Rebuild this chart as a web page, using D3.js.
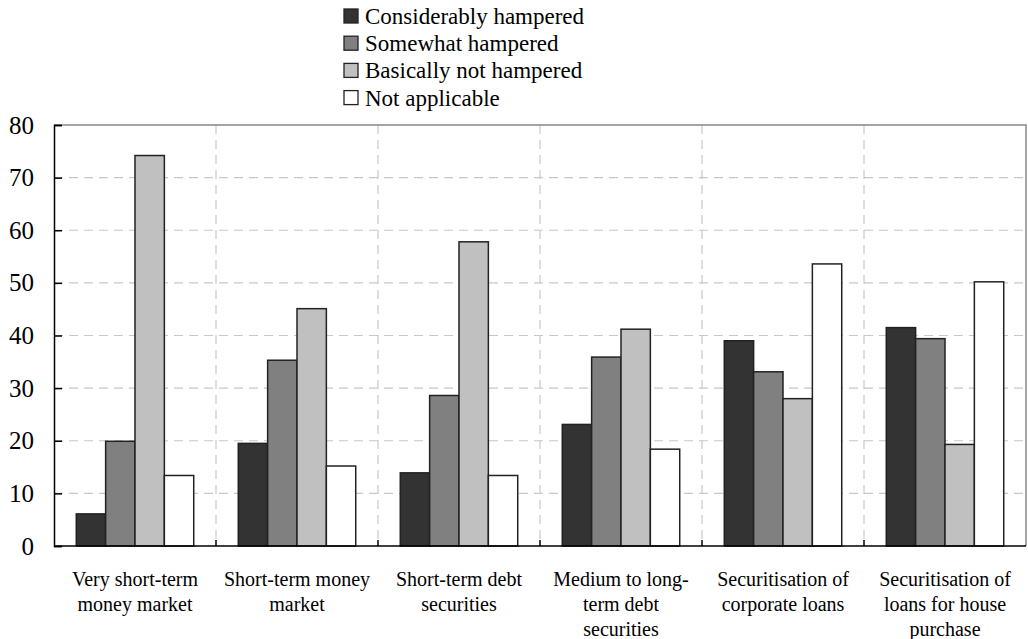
<!DOCTYPE html>
<html><head><meta charset="utf-8">
<script src="https://cdn.jsdelivr.net/npm/d3@7"></script>
<style>body{margin:0;background:#fff}svg{display:block}</style>
</head><body>
<script>
const categories = [
  ["Very short-term","money market"],
  ["Short-term money","market"],
  ["Short-term debt","securities"],
  ["Medium to long-","term debt","securities"],
  ["Securitisation of","corporate loans"],
  ["Securitisation of","loans for house","purchase"]
];
const seriesNames = ["Considerably hampered","Somewhat hampered","Basically not hampered","Not applicable"];
const seriesColors = ["#333333","#808080","#c0c0c0","#ffffff"];
const considerably = [6.1, 19.5, 13.9, 23.1, 39.0, 41.5];
const somewhat     = [19.9, 35.3, 28.6, 35.9, 33.1, 39.4];
const basicallyNot = [74.2, 45.1, 57.8, 41.2, 28.0, 19.3];
const notApplicable= [13.4, 15.2, 13.4, 18.4, 53.6, 50.2];
const yTicks = [0,10,20,30,40,50,60,70,80];

const FONT = "'Liberation Serif', 'Times New Roman', Times, Tinos, 'Nimbus Roman', 'DejaVu Serif', serif";
const values = [considerably, somewhat, basicallyNot, notApplicable];
const W = 1028, H = 639;
const m = {l:54, r:2, t:125, b:93};
const svg = d3.select("body").append("svg").attr("width",W).attr("height",H)
  .style("font-family", FONT);

const idx = categories.map((d,i)=>i);
const x0 = d3.scaleBand().domain(idx).range([m.l, W-m.r]).padding(0);
const bw = x0.bandwidth();
const x1 = d3.scaleBand().domain(d3.range(4)).range([bw*0.1375, bw*0.8625]).padding(0);
const y = d3.scaleLinear().domain([0,80]).range([H-m.b, m.t]);

// horizontal grid
svg.append("g").selectAll("line").data(yTicks.filter(t=>t>0 && t<80)).join("line")
  .attr("x1", m.l).attr("x2", W-m.r).attr("y1", d=>y(d)).attr("y2", d=>y(d))
  .attr("stroke","#c8c8c8").attr("stroke-width",1.2).attr("stroke-dasharray","9,6");
// vertical grid at band boundaries
svg.append("g").selectAll("line").data(idx.slice(1)).join("line")
  .attr("x1", d=>x0(d)).attr("x2", d=>x0(d)).attr("y1", y(80)).attr("y2", y(0))
  .attr("stroke","#c8c8c8").attr("stroke-width",1.2).attr("stroke-dasharray","9,6");

// top and right border
svg.append("path").attr("d",`M${m.l},${y(80)}H${W-m.r}V${y(0)}`).attr("fill","none")
  .attr("stroke","#888").attr("stroke-width",1.5);

// bars
const g = svg.append("g").selectAll("g").data(idx).join("g").attr("transform", d=>`translate(${x0(d)},0)`);
g.selectAll("rect").data(ci=>values.map((s,si)=>({si, v:s[ci]}))).join("rect")
  .attr("x", d=>x1(d.si)).attr("width", x1.bandwidth())
  .attr("y", d=>y(d.v)).attr("height", d=>y(0)-y(d.v))
  .attr("fill", d=>seriesColors[d.si]).attr("stroke","#222").attr("stroke-width",1.5);

// y axis
const yAxis = d3.axisLeft(y).tickValues(yTicks).tickSize(-8).tickPadding(20).tickFormat(d3.format("d"));
const ya = svg.append("g").attr("transform",`translate(${m.l},0)`).call(yAxis).attr("font-family", FONT);
ya.select(".domain").attr("stroke","#000").attr("stroke-width",1.5);
ya.selectAll(".tick line").attr("stroke","#000").attr("stroke-width",1.5);
ya.selectAll(".tick text").attr("font-size",25).attr("font-family",FONT).attr("fill","#000");

// x axis
const xa = svg.append("g").attr("transform",`translate(0,${y(0)})`);
xa.append("line").attr("x1",m.l).attr("x2",W-m.r).attr("stroke","#000").attr("stroke-width",1.5);
xa.selectAll("line.tk").data(idx.slice(1)).join("line").attr("class","tk")
  .attr("x1",d=>x0(d)).attr("x2",d=>x0(d)).attr("y1",0).attr("y2",-6).attr("stroke","#000").attr("stroke-width",1.5);
xa.selectAll("text").data(idx).join("text")
  .attr("x", d=>x0(d)+bw/2).attr("text-anchor","middle").attr("font-size",20).attr("font-family",FONT)
  .each(function(d){
    const t = d3.select(this);
    categories[d].forEach((line,li)=>t.append("tspan").attr("x", x0(d)+bw/2).attr("y", 40+li*25.2).text(line));
  });

// legend
const lg = svg.append("g").selectAll("g").data(seriesNames).join("g")
  .attr("transform",(d,i)=>`translate(344,${9+i*27.2})`);
lg.append("rect").attr("width",14).attr("height",14).attr("fill",(d,i)=>seriesColors[i])
  .attr("stroke","#222").attr("stroke-width",1.3);
lg.append("text").attr("x",21).attr("y",15).attr("font-size",23).attr("font-family",FONT).text(d=>d);
</script>
</body></html>
